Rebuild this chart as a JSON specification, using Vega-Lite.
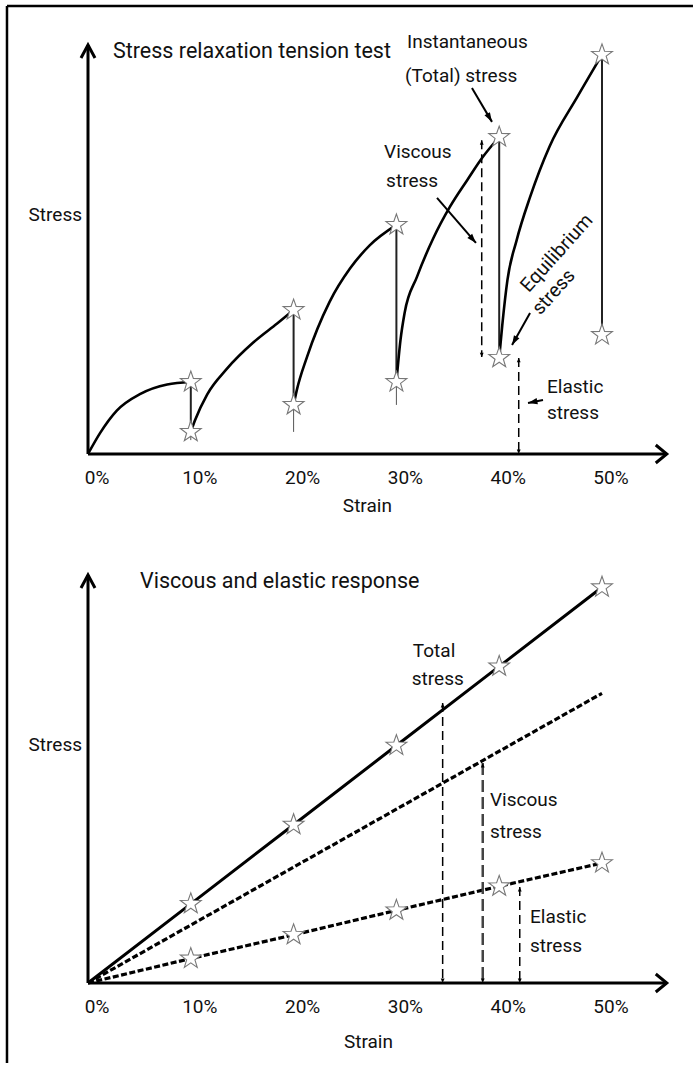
{
  "$schema": "https://vega.github.io/schema/vega-lite/v6.json",
  "width": 695,
  "height": 1065,
  "autosize": {"type": "fit", "contains": "padding"},
  "padding": 0,
  "background": "white",
  "config": {"view": {"stroke": null}, "text": {"font": "Roboto", "color": "#111"}},
  "datasets": {
    "frame": [
      {"x1": -7.88, "x2": 58.85, "y1": 109.54, "y2": 109.54},
      {"x1": -7.88, "x2": -7.88, "y1": 109.54, "y2": -148.9}
    ],
    "axes": [
      {"x1": 0, "x2": 56.3, "y1": 0, "y2": 0, "dir": "right"},
      {"x1": 0, "x2": 0, "y1": 0, "y2": 100, "dir": "up"}
    ],
    "p1curve": [
      {"seg": "A", "strain": 0, "stress": 0},
      {"seg": "A", "strain": 1.17, "stress": 5.1},
      {"seg": "A", "strain": 2.8, "stress": 10.6},
      {"seg": "A", "strain": 5.1, "stress": 14.7},
      {"seg": "A", "strain": 7.7, "stress": 17.0},
      {"seg": "A", "strain": 10, "stress": 17.6},
      {"seg": "B", "strain": 10, "stress": 5.4},
      {"seg": "B", "strain": 10.4, "stress": 8.2},
      {"seg": "B", "strain": 11.6, "stress": 14.6},
      {"seg": "B", "strain": 13.5, "stress": 20.8},
      {"seg": "B", "strain": 16.1, "stress": 27.3},
      {"seg": "B", "strain": 18.4, "stress": 31.9},
      {"seg": "B", "strain": 20, "stress": 35.2},
      {"seg": "C", "strain": 20, "stress": 12.0},
      {"seg": "C", "strain": 20.3, "stress": 15.5},
      {"seg": "C", "strain": 21.3, "stress": 23.7},
      {"seg": "C", "strain": 23.5, "stress": 37.2},
      {"seg": "C", "strain": 25.5, "stress": 45.4},
      {"seg": "C", "strain": 27.4, "stress": 51.0},
      {"seg": "C", "strain": 30, "stress": 56.0},
      {"seg": "D", "strain": 30, "stress": 17.6},
      {"seg": "D", "strain": 30.4, "stress": 27.9},
      {"seg": "D", "strain": 30.8, "stress": 34.5},
      {"seg": "D", "strain": 32.0, "stress": 43.3},
      {"seg": "D", "strain": 33.6, "stress": 52.8},
      {"seg": "D", "strain": 35.2, "stress": 60.4},
      {"seg": "D", "strain": 36.9, "stress": 67.0},
      {"seg": "D", "strain": 38.4, "stress": 72.6},
      {"seg": "D", "strain": 40, "stress": 77.5},
      {"seg": "E", "strain": 40, "stress": 23.5},
      {"seg": "E", "strain": 40.3, "stress": 31.5},
      {"seg": "E", "strain": 40.8, "stress": 42.5},
      {"seg": "E", "strain": 41.7, "stress": 52.3},
      {"seg": "E", "strain": 43.0, "stress": 62.8},
      {"seg": "E", "strain": 44.9, "stress": 75.2},
      {"seg": "E", "strain": 47.6, "stress": 87.3},
      {"seg": "E", "strain": 50, "stress": 97.6}
    ],
    "p1drop": [
      {"strain": 10, "top": 17.6, "bot": 5.4},
      {"strain": 20, "top": 35.2, "bot": 12.0},
      {"strain": 30, "top": 56.0, "bot": 17.6},
      {"strain": 40, "top": 77.5, "bot": 23.5},
      {"strain": 50, "top": 97.6, "bot": 29.1}
    ],
    "p1tail": [
      {"strain": 10, "top": 5.4, "bot": 3.4},
      {"strain": 20, "top": 12.0, "bot": 5.4},
      {"strain": 30, "top": 17.6, "bot": 12.0}
    ],
    "p1stars": [
      {"strain": 10, "stress": 17.6}, {"strain": 10, "stress": 5.4},
      {"strain": 20, "stress": 35.2}, {"strain": 20, "stress": 12.0},
      {"strain": 30, "stress": 56.0}, {"strain": 30, "stress": 17.6},
      {"strain": 40, "stress": 77.5}, {"strain": 40, "stress": 23.5},
      {"strain": 50, "stress": 97.6}, {"strain": 50, "stress": 29.1}
    ],
    "p1dash": [
      {"name": "viscous", "strain": 38.3, "top": 76.7, "bot": 23.7},
      {"name": "elastic", "strain": 41.9, "top": 23.5, "bot": 0}
    ],
    "p1arrows": [
      {"name": "inst", "x1": 37.35, "y1": 89.5, "x2": 39.3, "y2": 81.2},
      {"name": "visc", "x1": 33.95, "y1": 62.6, "x2": 37.74, "y2": 51.6},
      {"name": "equi", "x1": 43.0, "y1": 34.5, "x2": 41.25, "y2": 26.65},
      {"name": "elas", "x1": 44.26, "y1": 13.2, "x2": 42.8, "y2": 12.47}
    ],
    "p1text": [
      {"k": "title", "px": 2.43, "py": 98.3, "t": "Stress relaxation tension test"},
      {"k": "ylab", "px": -0.58, "py": 58.4, "t": "Stress"},
      {"k": "xlab", "px": 26.3, "py": -12.7, "t": "Strain"},
      {"k": "tick", "px": 0, "py": -5.9, "t": "0%"},
      {"k": "tick", "px": 10, "py": -5.9, "t": "10%"},
      {"k": "tick", "px": 20, "py": -5.9, "t": "20%"},
      {"k": "tick", "px": 30, "py": -5.9, "t": "30%"},
      {"k": "tick", "px": 40, "py": -5.9, "t": "40%"},
      {"k": "tick", "px": 50, "py": -5.9, "t": "50%"},
      {"k": "note", "px": 31.03, "py": 100.7, "t": "Instantaneous"},
      {"k": "note", "px": 30.84, "py": 92.4, "t": "(Total) stress"},
      {"k": "note", "px": 28.8, "py": 73.8, "t": "Viscous"},
      {"k": "note", "px": 29.0, "py": 66.7, "t": "stress"},
      {"k": "note", "px": 44.65, "py": 16.4, "t": "Elastic"},
      {"k": "note", "px": 44.65, "py": 10.0, "t": "stress"},
      {"k": "rot", "px": 45.6, "py": 49.1, "t": "Equilibrium"},
      {"k": "rot", "px": 45.3, "py": 39.6, "t": "stress"}
    ],
    "p2lines": [
      {"series": "total", "strain": 0, "stress": 0},
      {"series": "total", "strain": 10, "stress": 19.4},
      {"series": "total", "strain": 20, "stress": 38.8},
      {"series": "total", "strain": 30, "stress": 58.2},
      {"series": "total", "strain": 40, "stress": 77.6},
      {"series": "total", "strain": 50, "stress": 97.0},
      {"series": "viscous", "strain": 0, "stress": 0},
      {"series": "viscous", "strain": 50, "stress": 71.0},
      {"series": "elastic", "strain": 0, "stress": 0},
      {"series": "elastic", "strain": 10, "stress": 6.0},
      {"series": "elastic", "strain": 20, "stress": 11.8},
      {"series": "elastic", "strain": 30, "stress": 17.8},
      {"series": "elastic", "strain": 40, "stress": 23.7},
      {"series": "elastic", "strain": 50, "stress": 29.4}
    ],
    "p2dash": [
      {"name": "total", "strain": 34.5, "top": 68.6, "bot": 0},
      {"name": "viscous", "strain": 38.4, "top": 53.9, "bot": 0},
      {"name": "elastic", "strain": 42.0, "top": 23.5, "bot": 0}
    ],
    "p2text": [
      {"k": "title", "px": 5.06, "py": 98.3, "t": "Viscous and elastic response"},
      {"k": "ylab", "px": -0.58, "py": 58.3, "t": "Stress"},
      {"k": "xlab", "px": 26.4, "py": -14.5, "t": "Strain"},
      {"k": "tick", "px": 0, "py": -5.9, "t": "0%"},
      {"k": "tick", "px": 10, "py": -5.9, "t": "10%"},
      {"k": "tick", "px": 20, "py": -5.9, "t": "20%"},
      {"k": "tick", "px": 30, "py": -5.9, "t": "30%"},
      {"k": "tick", "px": 40, "py": -5.9, "t": "40%"},
      {"k": "tick", "px": 50, "py": -5.9, "t": "50%"},
      {"k": "note", "px": 31.6, "py": 81.4, "t": "Total"},
      {"k": "note", "px": 31.5, "py": 74.5, "t": "stress"},
      {"k": "note", "px": 39.1, "py": 44.9, "t": "Viscous"},
      {"k": "note", "px": 39.1, "py": 37.0, "t": "stress"},
      {"k": "note", "px": 43.0, "py": 16.2, "t": "Elastic"},
      {"k": "note", "px": 43.0, "py": 9.1, "t": "stress"}
    ]
  },
  "layer": [
    {
      "layer": [
        {
          "data": {"name": "frame"},
          "mark": {"type": "rule", "color": "black", "strokeWidth": 2.5},
          "encoding": {
            "x": {"field": "x1", "type": "quantitative", "scale": {"domain": [-8.56, 59.047], "nice": false, "zero": false}, "axis": null},
            "x2": {"field": "x2"},
            "y": {"field": "y1", "type": "quantitative", "scale": {"domain": [-149.39, 111.0], "nice": false, "zero": false}, "axis": null},
            "y2": {"field": "y2"}
          }
        },
        {
          "data": {"name": "axes"},
          "mark": {"type": "rule", "color": "black", "strokeWidth": 3},
          "encoding": {
            "x": {"field": "x1", "type": "quantitative", "axis": null},
            "x2": {"field": "x2"},
            "y": {"field": "y1", "type": "quantitative", "axis": null},
            "y2": {"field": "y2"}
          }
        },
        {
          "data": {"name": "axes"},
          "mark": {"type": "point", "filled": false, "stroke": "black", "strokeWidth": 3, "size": 400, "opacity": 1},
          "encoding": {
            "x": {"field": "x2", "type": "quantitative", "axis": null},
            "y": {"field": "y2", "type": "quantitative", "axis": null},
            "shape": {"field": "dir", "type": "nominal", "legend": null, "scale": {"domain": ["up", "right"], "range": ["M-0.7,1.3L0,0L0.7,1.3", "M-1.1,-0.9L0,0L-1.1,0.9"]}}
          }
        },
        {
          "data": {"name": "p1drop"},
          "mark": {"type": "rule", "color": "#222", "strokeWidth": 2},
          "encoding": {
            "x": {"field": "strain", "type": "quantitative", "axis": null},
            "y": {"field": "top", "type": "quantitative", "axis": null},
            "y2": {"field": "bot"}
          }
        },
        {
          "data": {"name": "p1tail"},
          "mark": {"type": "rule", "color": "#555", "strokeWidth": 1},
          "encoding": {
            "x": {"field": "strain", "type": "quantitative", "axis": null},
            "y": {"field": "top", "type": "quantitative", "axis": null},
            "y2": {"field": "bot"}
          }
        },
        {
          "data": {"name": "p1curve"},
          "mark": {"type": "line", "color": "black", "strokeWidth": 2.6, "interpolate": "monotone"},
          "encoding": {
            "x": {"field": "strain", "type": "quantitative", "axis": null},
            "y": {"field": "stress", "type": "quantitative", "axis": null},
            "detail": {"field": "seg", "type": "nominal"}
          }
        },
        {
          "data": {"name": "p1dash"},
          "mark": {"type": "rule", "color": "black", "strokeWidth": 1.5, "strokeDash": [9, 5]},
          "encoding": {
            "x": {"field": "strain", "type": "quantitative", "axis": null},
            "y": {"field": "top", "type": "quantitative", "axis": null},
            "y2": {"field": "bot"}
          }
        },
        {
          "data": {"name": "p1dash"},
          "mark": {"type": "point", "shape": "M0,0L-0.7,1.6L0.7,1.6Z", "filled": true, "color": "black", "size": 30, "opacity": 1},
          "encoding": {
            "x": {"field": "strain", "type": "quantitative", "axis": null},
            "y": {"field": "top", "type": "quantitative", "axis": null}
          }
        },
        {
          "data": {"name": "p1dash"},
          "mark": {"type": "point", "shape": "M0,0L-0.7,-1.6L0.7,-1.6Z", "filled": true, "color": "black", "size": 30, "opacity": 1},
          "encoding": {
            "x": {"field": "strain", "type": "quantitative", "axis": null},
            "y": {"field": "bot", "type": "quantitative", "axis": null}
          }
        },
        {
          "data": {"name": "p1arrows"},
          "mark": {"type": "rule", "color": "black", "strokeWidth": 2},
          "encoding": {
            "x": {"field": "x1", "type": "quantitative", "axis": null},
            "x2": {"field": "x2"},
            "y": {"field": "y1", "type": "quantitative", "axis": null},
            "y2": {"field": "y2"}
          }
        },
        {
          "data": {"name": "p1arrows"},
          "transform": [{"filter": "datum.name == 'inst'"}],
          "mark": {"type": "point", "shape": "M0,0L-0.6,1.8L0.6,1.8Z", "filled": true, "color": "black", "size": 110, "opacity": 1, "angle": 149.5},
          "encoding": {
            "x": {"field": "x2", "type": "quantitative", "axis": null},
            "y": {"field": "y2", "type": "quantitative", "axis": null}
          }
        },
        {
          "data": {"name": "p1arrows"},
          "transform": [{"filter": "datum.name == 'visc'"}],
          "mark": {"type": "point", "shape": "M0,0L-0.6,1.8L0.6,1.8Z", "filled": true, "color": "black", "size": 110, "opacity": 1, "angle": 139},
          "encoding": {
            "x": {"field": "x2", "type": "quantitative", "axis": null},
            "y": {"field": "y2", "type": "quantitative", "axis": null}
          }
        },
        {
          "data": {"name": "p1arrows"},
          "transform": [{"filter": "datum.name == 'equi'"}],
          "mark": {"type": "point", "shape": "M0,0L-0.6,1.8L0.6,1.8Z", "filled": true, "color": "black", "size": 110, "opacity": 1, "angle": 209.4},
          "encoding": {
            "x": {"field": "x2", "type": "quantitative", "axis": null},
            "y": {"field": "y2", "type": "quantitative", "axis": null}
          }
        },
        {
          "data": {"name": "p1arrows"},
          "transform": [{"filter": "datum.name == 'elas'"}],
          "mark": {"type": "point", "shape": "M0,0L-0.6,1.8L0.6,1.8Z", "filled": true, "color": "black", "size": 110, "opacity": 1, "angle": 258.7},
          "encoding": {
            "x": {"field": "x2", "type": "quantitative", "axis": null},
            "y": {"field": "y2", "type": "quantitative", "axis": null}
          }
        },
        {
          "data": {"name": "p1stars"},
          "mark": {"type": "point", "shape": "M0,-1L0.235,-0.324L0.951,-0.309L0.38,0.124L0.588,0.809L0,0.4L-0.588,0.809L-0.38,0.124L-0.951,-0.309L-0.235,-0.324Z", "filled": true, "fill": "white", "stroke": "#777", "strokeWidth": 1.1, "size": 480, "opacity": 1},
          "encoding": {
            "x": {"field": "strain", "type": "quantitative", "axis": null},
            "y": {"field": "stress", "type": "quantitative", "axis": null}
          }
        },
        {
          "data": {"name": "p1text"},
          "transform": [{"filter": "datum.k == 'title'"}],
          "mark": {"type": "text", "align": "left", "baseline": "middle", "fontSize": 21.5},
          "encoding": {
            "x": {"field": "px", "type": "quantitative", "axis": null},
            "y": {"field": "py", "type": "quantitative", "axis": null},
            "text": {"field": "t", "type": "nominal"}
          }
        },
        {
          "data": {"name": "p1text"},
          "transform": [{"filter": "datum.k == 'ylab'"}],
          "mark": {"type": "text", "align": "right", "baseline": "middle", "fontSize": 19},
          "encoding": {
            "x": {"field": "px", "type": "quantitative", "axis": null},
            "y": {"field": "py", "type": "quantitative", "axis": null},
            "text": {"field": "t", "type": "nominal"}
          }
        },
        {
          "data": {"name": "p1text"},
          "transform": [{"filter": "datum.k == 'xlab' || datum.k == 'tick'"}],
          "mark": {"type": "text", "align": "center", "baseline": "middle", "fontSize": 19, "dx": 9},
          "encoding": {
            "x": {"field": "px", "type": "quantitative", "axis": null},
            "y": {"field": "py", "type": "quantitative", "axis": null},
            "text": {"field": "t", "type": "nominal"}
          }
        },
        {
          "data": {"name": "p1text"},
          "transform": [{"filter": "datum.k == 'note'"}],
          "mark": {"type": "text", "align": "left", "baseline": "middle", "fontSize": 19},
          "encoding": {
            "x": {"field": "px", "type": "quantitative", "axis": null},
            "y": {"field": "py", "type": "quantitative", "axis": null},
            "text": {"field": "t", "type": "nominal"}
          }
        },
        {
          "data": {"name": "p1text"},
          "transform": [{"filter": "datum.k == 'rot'"}],
          "mark": {"type": "text", "align": "center", "baseline": "middle", "fontSize": 19.5, "angle": -48},
          "encoding": {
            "x": {"field": "px", "type": "quantitative", "axis": null},
            "y": {"field": "py", "type": "quantitative", "axis": null},
            "text": {"field": "t", "type": "nominal"}
          }
        }
      ]
    },
    {
      "layer": [
        {
          "data": {"name": "axes"},
          "mark": {"type": "rule", "color": "black", "strokeWidth": 3},
          "encoding": {
            "x": {"field": "x1", "type": "quantitative", "axis": null},
            "x2": {"field": "x2"},
            "y": {"field": "y1", "type": "quantitative", "scale": {"domain": [-20.1, 240.93], "nice": false, "zero": false}, "axis": null},
            "y2": {"field": "y2"}
          }
        },
        {
          "data": {"name": "axes"},
          "mark": {"type": "point", "filled": false, "stroke": "black", "strokeWidth": 3, "size": 400, "opacity": 1},
          "encoding": {
            "x": {"field": "x2", "type": "quantitative", "axis": null},
            "y": {"field": "y2", "type": "quantitative", "axis": null},
            "shape": {"field": "dir", "type": "nominal", "legend": null, "scale": {"domain": ["up", "right"], "range": ["M-0.7,1.3L0,0L0.7,1.3", "M-1.1,-0.9L0,0L-1.1,0.9"]}}
          }
        },
        {
          "data": {"name": "p2lines"},
          "transform": [{"filter": "datum.series == 'total'"}],
          "mark": {"type": "line", "color": "black", "strokeWidth": 3},
          "encoding": {
            "x": {"field": "strain", "type": "quantitative", "axis": null},
            "y": {"field": "stress", "type": "quantitative", "axis": null}
          }
        },
        {
          "data": {"name": "p2lines"},
          "transform": [{"filter": "datum.series != 'total'"}],
          "mark": {"type": "line", "color": "black", "strokeWidth": 3.2, "strokeDash": [6, 2.5]},
          "encoding": {
            "x": {"field": "strain", "type": "quantitative", "axis": null},
            "y": {"field": "stress", "type": "quantitative", "axis": null},
            "detail": {"field": "series", "type": "nominal"}
          }
        },
        {
          "data": {"name": "p2dash"},
          "transform": [{"filter": "datum.name != 'viscous'"}],
          "mark": {"type": "rule", "color": "black", "strokeWidth": 1.5, "strokeDash": [9, 5]},
          "encoding": {
            "x": {"field": "strain", "type": "quantitative", "axis": null},
            "y": {"field": "top", "type": "quantitative", "axis": null},
            "y2": {"field": "bot"}
          }
        },
        {
          "data": {"name": "p2dash"},
          "transform": [{"filter": "datum.name == 'viscous'"}],
          "mark": {"type": "rule", "color": "#444", "strokeWidth": 2.5, "strokeDash": [12, 5]},
          "encoding": {
            "x": {"field": "strain", "type": "quantitative", "axis": null},
            "y": {"field": "top", "type": "quantitative", "axis": null},
            "y2": {"field": "bot"}
          }
        },
        {
          "data": {"name": "p2dash"},
          "mark": {"type": "point", "shape": "M0,0L-0.7,1.6L0.7,1.6Z", "filled": true, "color": "black", "size": 30, "opacity": 1},
          "encoding": {
            "x": {"field": "strain", "type": "quantitative", "axis": null},
            "y": {"field": "top", "type": "quantitative", "axis": null}
          }
        },
        {
          "data": {"name": "p2dash"},
          "mark": {"type": "point", "shape": "M0,0L-0.7,-1.6L0.7,-1.6Z", "filled": true, "color": "black", "size": 30, "opacity": 1},
          "encoding": {
            "x": {"field": "strain", "type": "quantitative", "axis": null},
            "y": {"field": "bot", "type": "quantitative", "axis": null}
          }
        },
        {
          "data": {"name": "p2lines"},
          "transform": [{"filter": "datum.series != 'viscous' && datum.strain > 0"}],
          "mark": {"type": "point", "shape": "M0,-1L0.235,-0.324L0.951,-0.309L0.38,0.124L0.588,0.809L0,0.4L-0.588,0.809L-0.38,0.124L-0.951,-0.309L-0.235,-0.324Z", "filled": true, "fill": "white", "stroke": "#777", "strokeWidth": 1.1, "size": 480, "opacity": 1},
          "encoding": {
            "x": {"field": "strain", "type": "quantitative", "axis": null},
            "y": {"field": "stress", "type": "quantitative", "axis": null}
          }
        },
        {
          "data": {"name": "p2text"},
          "transform": [{"filter": "datum.k == 'title'"}],
          "mark": {"type": "text", "align": "left", "baseline": "middle", "fontSize": 21.5},
          "encoding": {
            "x": {"field": "px", "type": "quantitative", "axis": null},
            "y": {"field": "py", "type": "quantitative", "axis": null},
            "text": {"field": "t", "type": "nominal"}
          }
        },
        {
          "data": {"name": "p2text"},
          "transform": [{"filter": "datum.k == 'ylab'"}],
          "mark": {"type": "text", "align": "right", "baseline": "middle", "fontSize": 19},
          "encoding": {
            "x": {"field": "px", "type": "quantitative", "axis": null},
            "y": {"field": "py", "type": "quantitative", "axis": null},
            "text": {"field": "t", "type": "nominal"}
          }
        },
        {
          "data": {"name": "p2text"},
          "transform": [{"filter": "datum.k == 'xlab' || datum.k == 'tick'"}],
          "mark": {"type": "text", "align": "center", "baseline": "middle", "fontSize": 19, "dx": 9},
          "encoding": {
            "x": {"field": "px", "type": "quantitative", "axis": null},
            "y": {"field": "py", "type": "quantitative", "axis": null},
            "text": {"field": "t", "type": "nominal"}
          }
        },
        {
          "data": {"name": "p2text"},
          "transform": [{"filter": "datum.k == 'note'"}],
          "mark": {"type": "text", "align": "left", "baseline": "middle", "fontSize": 19},
          "encoding": {
            "x": {"field": "px", "type": "quantitative", "axis": null},
            "y": {"field": "py", "type": "quantitative", "axis": null},
            "text": {"field": "t", "type": "nominal"}
          }
        }
      ]
    }
  ],
  "resolve": {"scale": {"y": "independent"}}
}
